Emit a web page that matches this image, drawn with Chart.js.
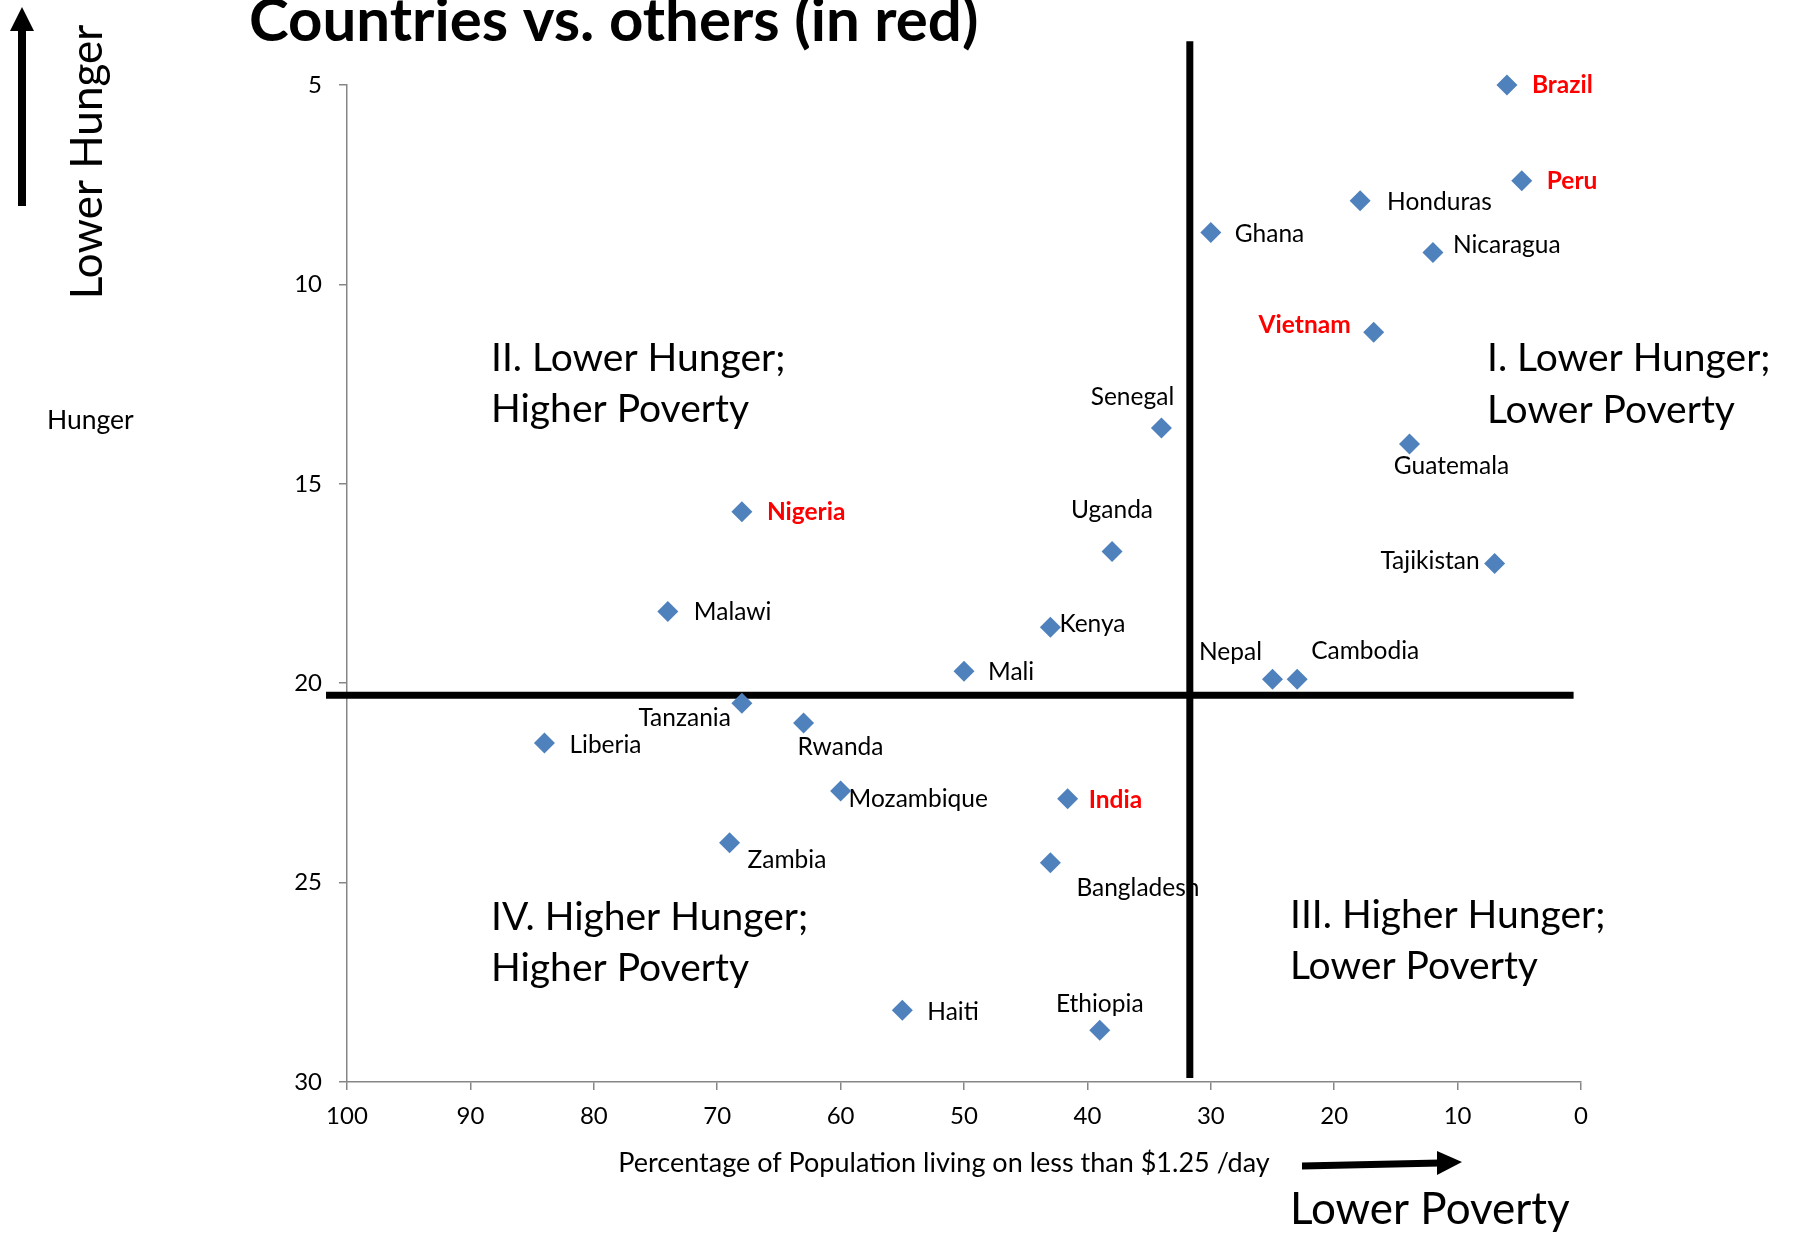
<!DOCTYPE html>
<html>
<head>
<meta charset="utf-8">
<script src="https://cdn.jsdelivr.net/npm/chart.js@4.4.0/dist/chart.umd.min.js"></script>
<style>
  body { margin: 0; background: #fff; }
  canvas { display: block; }
</style>
</head>
<body>
<canvas id="myChart" width="1795" height="1235"></canvas>
<script>
// DATA

const countries = ["Brazil", "Peru", "Honduras", "Ghana", "Nicaragua", "Vietnam", "Senegal",
  "Guatemala", "Nigeria", "Uganda", "Tajikistan", "Malawi", "Kenya", "Mali", "Nepal",
  "Cambodia", "Tanzania", "Rwanda", "Liberia", "Mozambique", "India", "Zambia",
  "Bangladesh", "Haiti", "Ethiopia"];
// % of population living on less than $1.25/day
const poverty = [6.0, 4.8, 17.9, 30.0, 12.0, 16.8, 34.0, 13.9, 68.0, 38.0, 7.0, 74.0, 43.0,
  50.0, 25.0, 23.0, 68.0, 63.0, 84.0, 60.0, 41.6, 69.0, 43.0, 55.0, 39.0];
// hunger index
const hunger = [5.0, 7.4, 7.9, 8.7, 9.2, 11.2, 13.6, 14.0, 15.7, 16.7, 17.0, 18.2, 18.6,
  19.7, 19.9, 19.9, 20.5, 21.0, 21.5, 22.7, 22.9, 24.0, 24.5, 28.2, 28.7];
const redCountries = ["Brazil", "Peru", "Vietnam", "Nigeria", "India"];

const xTickValues = [100, 90, 80, 70, 60, 50, 40, 30, 20, 10, 0];
const yTickValues = [5, 10, 15, 20, 25, 30];

// quadrant dividers (x, y pairs)
const dividerV = [[31.7, 3.9], [31.7, 29.9]];
const dividerH = [[101.7, 20.3], [0.6, 20.3]];

// LABEL PLACEMENT (pixel offsets from each diamond)

const labelPos = {
  Brazil: [25, 0, "left"],
  Peru: [25, 0, "left"],
  Honduras: [27, 1, "left"],
  Ghana: [24, 2, "left"],
  Nicaragua: [20, -7, "left"],
  Vietnam: [-23, -7, "right"],
  Senegal: [-29, -31, "center"],
  Guatemala: [42, 22, "center"],
  Nigeria: [25, 0, "left"],
  Uganda: [0, -42, "center"],
  Tajikistan: [-15, -2, "right"],
  Malawi: [26, 1, "left"],
  Kenya: [9, -3, "left"],
  Mali: [24, 1, "left"],
  Nepal: [-42, -27, "center"],
  Cambodia: [68, -28, "center"],
  Tanzania: [-11, 15, "right"],
  Rwanda: [-6, 24, "left"],
  Liberia: [25, 2, "left"],
  Mozambique: [8, 8, "left"],
  India: [21, 1, "left"],
  Zambia: [18, 17, "left"],
  Bangladesh: [26, 25, "left"],
  Haiti: [25, 2, "left"],
  Ethiopia: [0, -26, "center"]
};

const FONT = "Lato";

// PLUGINS

const pointLabels = {
  id: "pointLabels",
  beforeDatasetsDraw(chart) {
    const ctx = chart.ctx;
    const meta = chart.getDatasetMeta(0);
    ctx.save();
    ctx.textBaseline = "middle";
    meta.data.forEach((pt, i) => {
      const name = countries[i];
      const p = labelPos[name] || [20, 0, "left"];
      const red = redCountries.includes(name);
      ctx.font = (red ? "bold " : "") + "24.5px " + FONT;
      ctx.fillStyle = red ? "#ff0000" : "#000";
      ctx.textAlign = p[2];
      ctx.fillText(name, pt.x + p[0], pt.y + p[1]);
    });
    ctx.restore();
  }
};

const decorations = {
  id: "decorations",
  afterDraw(chart) {
    const ctx = chart.ctx;
    ctx.save();
    ctx.fillStyle = "#000";

    // title
    ctx.font = "bold 60px " + FONT;
    ctx.textAlign = "left";
    ctx.textBaseline = "alphabetic";
    ctx.fillText("Countries vs. others (in red)", 249, 41);

    // quadrant captions
    ctx.font = "39px " + FONT;
    ctx.fillText("II. Lower Hunger;", 491, 371);
    ctx.fillText("Higher Poverty", 491, 422);
    ctx.fillText("I. Lower Hunger;", 1487, 371);
    ctx.fillText("Lower Poverty", 1487, 423);
    ctx.fillText("IV. Higher Hunger;", 491, 930);
    ctx.fillText("Higher Poverty", 491, 981);
    ctx.fillText("III. Higher Hunger;", 1290, 928);
    ctx.fillText("Lower Poverty", 1290, 979);

    // axis titles
    ctx.font = "26.5px " + FONT;
    ctx.textBaseline = "middle";
    ctx.fillText("Hunger", 47, 420);
    ctx.font = "27px " + FONT;
    ctx.textAlign = "center";
    ctx.fillText("Percentage of Population living on less than $1.25 /day", 944, 1163);

    ctx.font = "44px " + FONT;
    ctx.textAlign = "left";
    ctx.textBaseline = "alphabetic";
    ctx.fillText("Lower Poverty", 1290, 1224);

    ctx.save();
    ctx.translate(102, 162);
    ctx.rotate(-Math.PI / 2);
    ctx.textAlign = "center";
    ctx.fillText("Lower Hunger", 0, 0);
    ctx.restore();

    // vertical arrow
    ctx.fillRect(18, 28, 8, 178);
    ctx.beginPath();
    ctx.moveTo(10, 31);
    ctx.lineTo(34, 31);
    ctx.lineTo(22, 7);
    ctx.closePath();
    ctx.fill();

    // horizontal arrow
    ctx.beginPath();
    ctx.moveTo(1302, 1162.5);
    ctx.lineTo(1440, 1159.5);
    ctx.lineTo(1440, 1166.5);
    ctx.lineTo(1302, 1169.5);
    ctx.closePath();
    ctx.fill();
    ctx.beginPath();
    ctx.moveTo(1437, 1151);
    ctx.lineTo(1462, 1162);
    ctx.lineTo(1437, 1175);
    ctx.closePath();
    ctx.fill();

    ctx.restore();
  }
};

// DRAWING GRAPH

const axisColor = "#868686";
const ctx = document.getElementById("myChart").getContext("2d");

new Chart(ctx, {
  type: "scatter",
  data: {
    datasets: [
      {
        label: "Countries",
        data: countries.map((c, i) => ({ x: poverty[i], y: hunger[i] })),
        pointStyle: "rectRot",
        pointRadius: 10.5,
        pointBorderWidth: 0,
        backgroundColor: "#4f81bd",
        borderColor: "#4f81bd",
        clip: false,
        order: 0
      },
      {
        type: "line",
        data: dividerV.map(d => ({ x: d[0], y: d[1] })),
        borderColor: "#000",
        borderWidth: 7,
        pointRadius: 0,
        clip: false,
        order: 1
      },
      {
        type: "line",
        data: dividerH.map(d => ({ x: d[0], y: d[1] })),
        borderColor: "#000",
        borderWidth: 7,
        pointRadius: 0,
        clip: false,
        order: 1
      }
    ]
  },
  options: {
    responsive: false,
    animation: false,
    devicePixelRatio: 1,
    layout: { padding: { left: 247, right: 214, top: 85, bottom: 93 } },
    plugins: {
      legend: { display: false },
      tooltip: { enabled: false },
      title: { display: false }
    },
    scales: {
      x: {
        type: "linear",
        reverse: true,
        min: 0,
        max: 100,
        afterFit: s => { s.height = 60; },
        afterBuildTicks: s => { s.ticks = xTickValues.map(v => ({ value: v })); },
        grid: { drawOnChartArea: false, drawTicks: true, tickLength: 8, color: axisColor, lineWidth: 1.5 },
        border: { color: axisColor, width: 1.5 },
        ticks: { font: { family: FONT, size: 24 }, color: "#000", padding: 12, maxRotation: 0, autoSkip: false }
      },
      y: {
        type: "linear",
        reverse: true,
        min: 5,
        max: 30,
        afterFit: s => { s.width = 100; },
        afterBuildTicks: s => { s.ticks = yTickValues.map(v => ({ value: v })); },
        grid: { drawOnChartArea: false, drawTicks: true, tickLength: 8, color: axisColor, lineWidth: 1.5 },
        border: { color: axisColor, width: 1.5 },
        ticks: { font: { family: FONT, size: 24 }, color: "#000", padding: 17, autoSkip: false }
      }
    }
  },
  plugins: [pointLabels, decorations]
});
</script>
</body>
</html>
